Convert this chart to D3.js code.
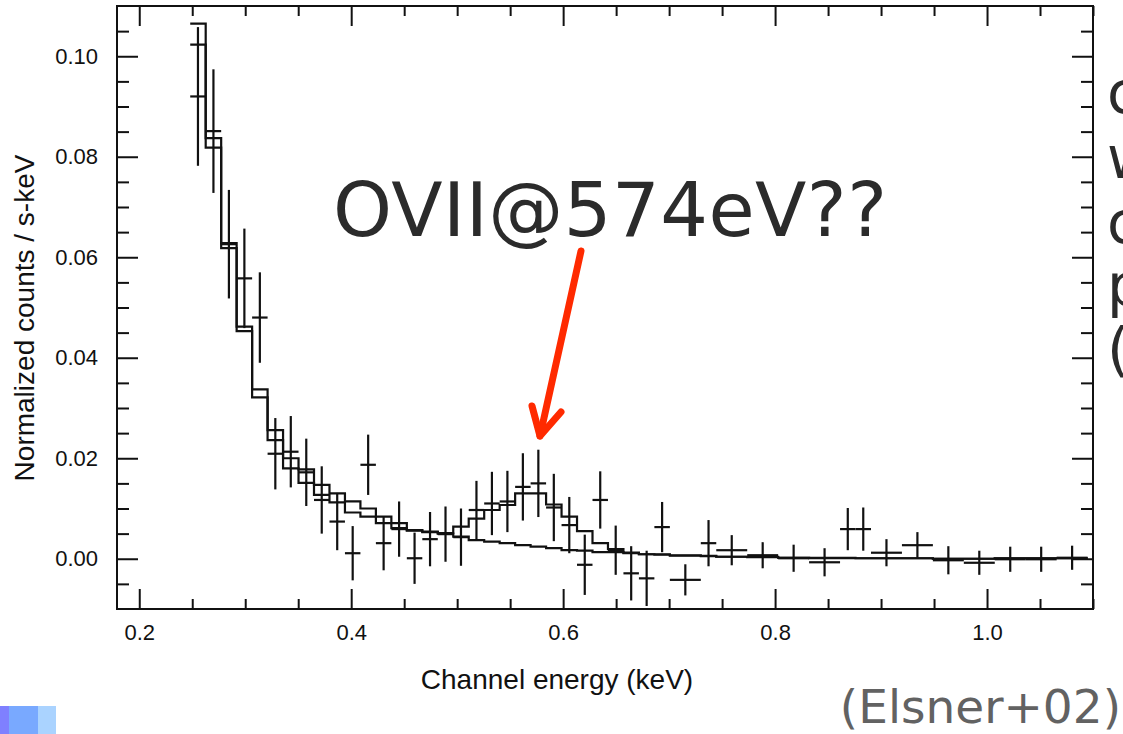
<!DOCTYPE html>
<html>
<head>
<meta charset="utf-8">
<script src="https://cdn.jsdelivr.net/npm/d3@7"></script>
<style>
  html, body { margin: 0; padding: 0; background: #fff; }
  svg { display: block; }
</style>
</head>
<body>
<svg id="chart" width="1123" height="734"></svg>
<script>
// Spectrum bins: centre energy (keV) and half-width (keV)
const energy = [0.2554, 0.2700, 0.2846, 0.2992, 0.3138, 0.3284, 0.3430, 0.3576, 0.3722, 0.3868,
                0.4014, 0.4160, 0.4306, 0.4452, 0.4598, 0.4744, 0.4890, 0.5036, 0.5182, 0.5328,
                0.5474, 0.5620, 0.5766, 0.5912, 0.6058, 0.6204, 0.6350, 0.6496, 0.6642, 0.6788,
                0.6934, 0.7153, 0.7372, 0.7591, 0.7883, 0.8175, 0.8467, 0.8686, 0.8832, 0.9051,
                0.9343, 0.9635, 0.9927, 1.0219, 1.0511, 1.0803];
const halfWidth = [0.0073, 0.0073, 0.0073, 0.0073, 0.0073, 0.0073, 0.0073, 0.0073, 0.0073, 0.0073,
                   0.0073, 0.0073, 0.0073, 0.0073, 0.0073, 0.0073, 0.0073, 0.0073, 0.0073, 0.0073,
                   0.0073, 0.0073, 0.0073, 0.0073, 0.0073, 0.0073, 0.0073, 0.0073, 0.0073, 0.0073,
                   0.0073, 0.0146, 0.0073, 0.0146, 0.0146, 0.0146, 0.0146, 0.0073, 0.0073, 0.0146,
                   0.0146, 0.0146, 0.0146, 0.0146, 0.0146, 0.0146];
// Observed normalized counts (counts / s / keV) and 1-sigma errors
const counts = [0.0920, 0.0851, 0.0626, 0.0558, 0.0480, 0.0209, 0.0213, 0.0172, 0.0117, 0.0074,
                0.0011, 0.0187, 0.0031, 0.0059, 0.0001, 0.0039, 0.0049, 0.0043, 0.0097, 0.0110,
                0.0114, 0.0143, 0.0150, 0.0102, 0.0067, -0.0012, 0.0117, 0.0017, -0.0029, -0.0039,
                0.0063, -0.0042, 0.0031, 0.0017, 0.0007, 0.0001, -0.0007, 0.0059, 0.0059, 0.0012,
                0.0027, -0.0003, -0.0008, -0.0001, -0.0001, 0.0002];
const countErr = [0.0138, 0.0123, 0.0108, 0.0099, 0.0090, 0.0071, 0.0071, 0.0067, 0.0067, 0.0057,
                  0.0054, 0.0060, 0.0054, 0.0055, 0.0051, 0.0054, 0.0055, 0.0057, 0.0058, 0.0063,
                  0.0061, 0.0067, 0.0067, 0.0067, 0.0056, 0.0060, 0.0057, 0.0049, 0.0054, 0.0055,
                  0.0050, 0.0031, 0.0046, 0.0030, 0.0026, 0.0027, 0.0028, 0.0042, 0.0043, 0.0027,
                  0.0026, 0.0028, 0.0024, 0.0025, 0.0025, 0.0024];
// Folded models: continuum + emission line, and continuum alone
const modelLine = [0.1065, 0.0837, 0.0628, 0.0462, 0.0337, 0.0256, 0.0200, 0.0178, 0.0147, 0.0130,
                   0.0114, 0.0100, 0.0084, 0.0071, 0.0057, 0.0054, 0.0051, 0.0064, 0.0080, 0.0097,
                   0.0107, 0.0130, 0.0130, 0.0108, 0.0084, 0.0055, 0.0031, 0.0019, 0.0012, 0.0009,
                   0.0009, 0.0007, 0.0006, 0.0004, 0.0004, 0.0002, 0.0002, 0.0002, 0.0001, 0.0001,
                   0.0001, 0.0000, 0.0000, 0.0001, 0.0001, 0.0001];
const modelCont = [0.1023, 0.0818, 0.0618, 0.0453, 0.0321, 0.0236, 0.0180, 0.0151, 0.0127, 0.0112,
                   0.0092, 0.0084, 0.0071, 0.0061, 0.0056, 0.0053, 0.0050, 0.0044, 0.0037, 0.0034,
                   0.0031, 0.0027, 0.0024, 0.0021, 0.0017, 0.0016, 0.0013, 0.0013, 0.0011, 0.0009,
                   0.0008, 0.0006, 0.0005, 0.0004, 0.0003, 0.0002, 0.0001, 0.0001, 0.0001, 0.0001,
                   0.0001, 0.0000, 0.0000, 0.0001, 0.0001, 0.0001];

// Axis ticks
const xTickValues = [0.2, 0.4, 0.6, 0.8, 1.0];
const xTickLabels = ["0.2", "0.4", "0.6", "0.8", "1.0"];
const xMinorValues = [0.25, 0.3, 0.35, 0.45, 0.5, 0.55, 0.65, 0.7, 0.75, 0.85, 0.9, 0.95, 1.05, 1.1];
const yTickValues = [0.00, 0.02, 0.04, 0.06, 0.08, 0.10];
const yTickLabels = ["0.00", "0.02", "0.04", "0.06", "0.08", "0.10"];
const yMinorValues = [-0.005, 0.005, 0.01, 0.015, 0.025, 0.03, 0.035, 0.045, 0.05, 0.055,
                      0.065, 0.07, 0.075, 0.085, 0.09, 0.095, 0.105];

const ink = "#111";
const svg = d3.select("#chart");
svg.append("rect").attr("width", 1123).attr("height", 734).attr("fill", "#fff");

const frame = { left: 117, right: 1093, top: 6, bottom: 609 };
const x = d3.scaleLinear().domain([0.179, 1.1]).range([frame.left, frame.right]);
const y = d3.scaleLinear().domain([-0.01, 0.11]).range([frame.bottom, frame.top]);

function styleAxis(g) {
  g.select(".domain").remove();
  g.selectAll(".tick line").attr("stroke", ink).attr("stroke-width", 2);
  g.selectAll(".tick text")
    .attr("fill", ink)
    .style("font-family", "'Liberation Sans', Arial, Helvetica, sans-serif")
    .style("font-size", "22px");
}

// Bottom axis (labelled) and its minor ticks
svg.append("g").attr("transform", `translate(0,${frame.bottom})`)
  .call(d3.axisBottom(x).tickValues(xTickValues).tickFormat((d, i) => xTickLabels[i])
        .tickSizeInner(-20).tickSizeOuter(0).tickPadding(15))
  .call(styleAxis);
svg.append("g").attr("transform", `translate(0,${frame.bottom})`)
  .call(d3.axisBottom(x).tickValues(xMinorValues).tickFormat("").tickSizeInner(-10).tickSizeOuter(0))
  .call(styleAxis);
// Top axis
svg.append("g").attr("transform", `translate(0,${frame.top})`)
  .call(d3.axisTop(x).tickValues(xTickValues).tickFormat("").tickSizeInner(-20).tickSizeOuter(0))
  .call(styleAxis);
svg.append("g").attr("transform", `translate(0,${frame.top})`)
  .call(d3.axisTop(x).tickValues(xMinorValues).tickFormat("").tickSizeInner(-10).tickSizeOuter(0))
  .call(styleAxis);
// Left axis (labelled)
svg.append("g").attr("transform", `translate(${frame.left},0)`)
  .call(d3.axisLeft(y).tickValues(yTickValues).tickFormat((d, i) => yTickLabels[i])
        .tickSizeInner(-21).tickSizeOuter(0).tickPadding(19))
  .call(styleAxis);
svg.append("g").attr("transform", `translate(${frame.left},0)`)
  .call(d3.axisLeft(y).tickValues(yMinorValues).tickFormat("").tickSizeInner(-12).tickSizeOuter(0))
  .call(styleAxis);
// Right axis
svg.append("g").attr("transform", `translate(${frame.right},0)`)
  .call(d3.axisRight(y).tickValues(yTickValues).tickFormat("").tickSizeInner(-21).tickSizeOuter(0))
  .call(styleAxis);
svg.append("g").attr("transform", `translate(${frame.right},0)`)
  .call(d3.axisRight(y).tickValues(yMinorValues).tickFormat("").tickSizeInner(-12).tickSizeOuter(0))
  .call(styleAxis);

// Plot contents clipped to the frame
svg.append("clipPath").attr("id", "plot-clip")
  .append("rect")
  .attr("x", frame.left).attr("y", frame.top)
  .attr("width", frame.right - frame.left).attr("height", frame.bottom - frame.top);
const plot = svg.append("g").attr("clip-path", "url(#plot-clip)");

// Step histograms of the two models
function stepPoints(values) {
  const pts = [];
  values.forEach((v, i) => {
    pts.push([energy[i] - halfWidth[i], v]);
    pts.push([energy[i] + halfWidth[i], v]);
  });
  return pts;
}
const stepLine = d3.line().x(d => x(d[0])).y(d => y(d[1]));
[modelCont, modelLine].forEach(series => {
  plot.append("path")
    .attr("d", stepLine(stepPoints(series)))
    .attr("fill", "none")
    .attr("stroke", ink)
    .attr("stroke-width", 2.2);
});

// Data points: energy-bin width and 1-sigma error bars
const pts = plot.append("g").attr("stroke", ink).attr("stroke-width", 2.2);
energy.forEach((e, i) => {
  pts.append("line")
    .attr("x1", x(e - halfWidth[i])).attr("x2", x(e + halfWidth[i]))
    .attr("y1", y(counts[i])).attr("y2", y(counts[i]));
  pts.append("line")
    .attr("x1", x(e)).attr("x2", x(e))
    .attr("y1", y(counts[i] - countErr[i])).attr("y2", y(counts[i] + countErr[i]));
});

// Frame
svg.append("rect")
  .attr("x", frame.left).attr("y", frame.top)
  .attr("width", frame.right - frame.left).attr("height", frame.bottom - frame.top)
  .attr("fill", "none").attr("stroke", ink).attr("stroke-width", 2);

// Axis titles
const helv = "'Liberation Sans', Arial, Helvetica, sans-serif";
svg.append("text")
  .attr("x", 557).attr("y", 689)
  .attr("text-anchor", "middle")
  .style("font-family", helv).style("font-size", "28px")
  .attr("fill", ink)
  .text("Channel energy (keV)");
svg.append("text")
  .attr("transform", "translate(34,318) rotate(-90)")
  .attr("text-anchor", "middle")
  .style("font-family", helv).style("font-size", "28px")
  .attr("fill", ink)
  .text("Normalized counts / s-keV");

// Annotation: line identification and arrow pointing at the bump
const verdana = "'DejaVu Sans', Verdana, sans-serif";
svg.append("text")
  .attr("x", 333).attr("y", 236)
  .style("font-family", verdana).style("font-size", "75px")
  .style("letter-spacing", "0.5px")
  .attr("fill", "#2b2b2b")
  .text("OVII@574eV??");

const arrow = svg.append("g")
  .attr("stroke", "#ff2a00").attr("stroke-width", 7)
  .attr("stroke-linecap", "round").attr("stroke-linejoin", "round")
  .attr("fill", "none");
arrow.append("line").attr("x1", 581).attr("y1", 251).attr("x2", 540).attr("y2", 436);
arrow.append("polyline").attr("points", "532,406 540,436 561,412");

// Slide text running off the right edge
const sideLetters = ["c", "w", "c", "p", "("];
const sideBaselines = [113, 178, 243, 306, 370];
sideLetters.forEach((t, i) => {
  svg.append("text")
    .attr("x", 1107).attr("y", sideBaselines[i])
    .style("font-family", verdana).style("font-size", "58px")
    .attr("fill", "#2b2b2b")
    .text(t);
});

// Citation
svg.append("text")
  .attr("x", 1121).attr("y", 723)
  .attr("text-anchor", "end")
  .style("font-family", verdana).style("font-size", "47px")
  .attr("fill", "#626262")
  .text("(Elsner+02)");

// Slide decoration blocks in the lower-left corner
const blockX = [0, 9, 38];
const blockW = [9, 29, 18];
const blockColor = ["#7f80ff", "#79a9ff", "#aad3ff"];
blockX.forEach((bx, i) => {
  svg.append("rect")
    .attr("x", bx).attr("y", 706).attr("width", blockW[i]).attr("height", 28)
    .attr("fill", blockColor[i]);
});
</script>
</body>
</html>
